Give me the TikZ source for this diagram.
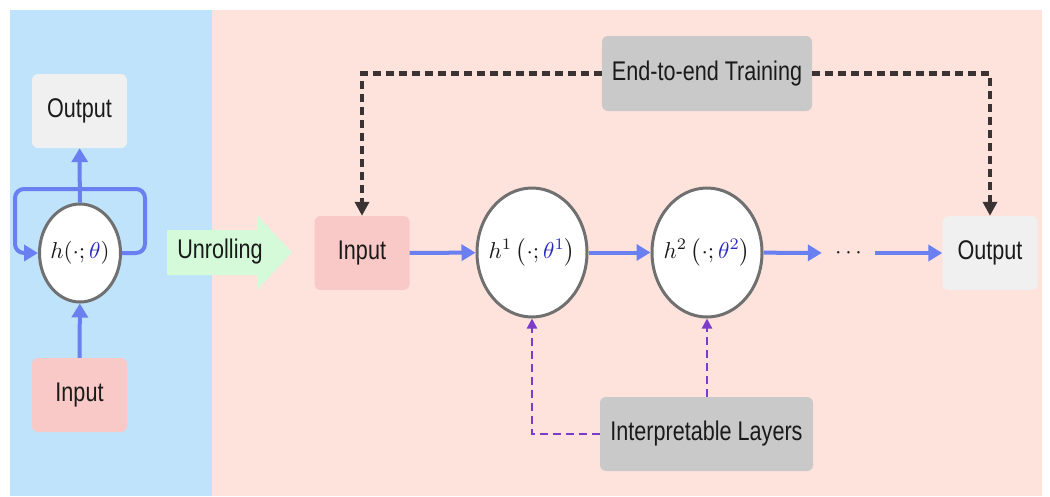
\documentclass[tikz,border=0pt]{standalone}
\usepackage{fontspec}
\setmainfont{Liberation Sans}[FakeStretch=0.8]
\usetikzlibrary{arrows.meta,shapes.geometric}
\definecolor{panelblue}{HTML}{BEE3FA}
\definecolor{panelpink}{HTML}{FDE3DC}
\definecolor{boxgray}{HTML}{F0F0F0}
\definecolor{boxpink}{HTML}{F8C9C6}
\definecolor{boxdark}{HTML}{C9C9C9}
\definecolor{arrgreen}{HTML}{D4FAD9}
\definecolor{flowblue}{HTML}{6A7FF0}
\definecolor{ringgray}{HTML}{707070}
\definecolor{darkdash}{HTML}{3B3333}
\definecolor{purp}{HTML}{7D3CC8}
\definecolor{thetablue}{HTML}{2A2AC0}
\definecolor{txt}{HTML}{1A1A1A}
\tikzset{
  txtfont/.style={font=\fontsize{27}{30}\selectfont, text=txt},
  box/.style={txtfont, rounded corners=6pt, inner sep=0pt, minimum width=95pt, minimum height=74pt},
  ioout/.style={box, fill=boxgray},
  ioin/.style={box, fill=boxpink},
  tag/.style={box, fill=boxdark},
  cell/.style={ellipse, draw=ringgray, line width=3pt, fill=white, inner sep=0pt, text=txt},
  flow/.style={draw=flowblue, line width=4pt, -{Triangle[length=14pt,width=16pt]}},
  train/.style={draw=darkdash, line width=4.5pt, dash pattern=on 8pt off 5pt, -{Triangle[length=14pt,width=14pt]}},
  interp/.style={draw=purp, line width=2.2pt, dash pattern=on 8pt off 5pt, -{Triangle[length=10pt,width=10pt]}},
}
\newcommand{\tb}[1]{\textcolor{thetablue}{#1}}
\begin{document}
\begin{tikzpicture}[x=1pt,y=-1pt]
\useasboundingbox (0,0) rectangle (1050,496);
\fill[white] (0,0) rectangle (1050,496);
% panels
\fill[panelblue] (10,10) rectangle (212,496);
\fill[panelpink] (212,10) rectangle (1042,496);

% left part
\node[ioout] (lout) at (79.5,111) {Output};
\node[ioin] (lin) at (79.5,395) {Input};
\node[cell, minimum width=81pt, minimum height=98pt] (lh) at (80,253) {};
\node[text=txt] (lhlabel) at (lh.center) {\scalebox{2.3}{$h(\cdot;\tb{\theta})$}};
\draw[flow] (lin) -- (lh);
\draw[flow] (lh) -- (lout);
\draw[flow, rounded corners=9pt] (lh.east) -- (145,253) -- (145,189) -- (15,189) -- (15,253) -- (lh.west);

% unrolling arrow
\fill[arrgreen] (167,230) -- (257,230) -- (257,215) -- (292,252.5) -- (257,290) -- (257,275) -- (167,275) -- cycle;
\node[txtfont] (unroll) at (220,252) {Unrolling};

% right part
\node[ioin] (rin) at (362,253) {Input};
\node[cell, minimum width=110pt, minimum height=129pt] (h1) at (532,252.5) {};
\node[text=txt] (h1label) at (h1.center) {\scalebox{2.3}{$h^1\left(\cdot;\tb{\theta^1}\right)$}};
\node[cell, minimum width=110pt, minimum height=129pt] (h2) at (707,252.5) {};
\node[text=txt] (h2label) at (h2.center) {\scalebox{2.3}{$h^2\left(\cdot;\tb{\theta^2}\right)$}};
\node[inner sep=0pt, minimum width=53pt, minimum height=20pt, text=txt] (dots) at (848.5,253) {\scalebox{2.3}{$\cdots$}};
\node[ioout] (rout) at (990,253) {Output};

\draw[flow] (rin) -- (h1);
\draw[flow] (h1) -- (h2);
\draw[flow] (h2) -- (dots);
\draw[flow] (dots) -- (rout);

% training
\node[tag, minimum width=210pt, minimum height=75pt] (e2e) at (707,73.5) {End-to-end Training};
\draw[train] (e2e.west) -| (rin.north);
\draw[train] (e2e.east) -| (rout.north);

% interpretable layers
\node[tag, minimum width=213pt, minimum height=74pt] (il) at (706.5,434) {Interpretable Layers};
\draw[interp] (il.west) -| (h1.south);
\draw[interp] (il.north -| h2.south) -- (h2.south);
\end{tikzpicture}
\end{document}
